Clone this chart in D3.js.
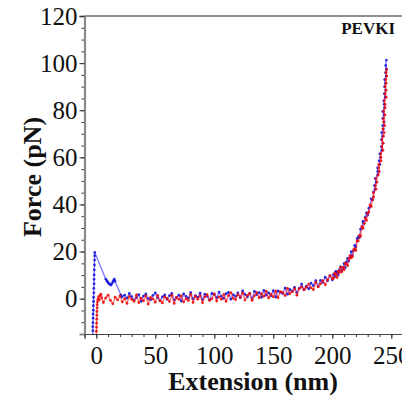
<!DOCTYPE html>
<html>
<head>
<meta charset="utf-8">
<script src="https://cdn.jsdelivr.net/npm/d3@7"></script>
<style>
  html, body { margin: 0; padding: 0; background: #fff; }
  svg { display: block; }
  text { font-family: "Liberation Serif", "Times New Roman", serif; fill: #111; }
</style>
</head>
<body>
<svg id="chart" width="402" height="400"></svg>
<script>
// Force–extension traces, [extension (nm), force (pN)]
const blueTrace = [
  // approach contact and adhesion peak
  [-3.0,-15.4],[-2.9,-13.6],[-3.0,-11.9],[-2.8,-10.2],[-2.7,-8.3],[-2.7,-6.5],[-2.5,-4.9],[-2.5,-3.0],
  [-2.3,-1.2],[-2.3,0.6],[-2.1,2.5],[-2.1,4.4],[-1.9,6.3],[-1.9,8.2],[-1.8,10.1],[-1.7,12.2],
  [-1.6,14.3],[-1.5,16.4],[-1.4,18.2],[-1.3,19.6],
  // detachment events
  [8.0,8.3],[8.9,7.6],[9.8,7.0],[10.7,6.4],[11.6,6.0],[12.5,5.8],[13.3,6.4],[14.1,7.2],[14.8,7.9],
  [15.3,8.3],[15.8,7.4],[20.9,1.5],[21.7,0.7],
  // unloaded baseline
  [24,1.5],[26,0.2],[28,2.2],[30,0.9],[32,-0.6],[34,0.5],[36,1.7],[38,-1.1],[40,1.1],[42,2.0],
  [44,0.0],[46,-0.5],[48,1.4],[50,2.4],[52,0.4],[54,-0.9],[56,0.8],[58,1.6],[60,-0.3],[62,1.3],
  [64,2.2],[66,-0.6],[68,0.5],[70,1.5],[72,-1.0],[74,2.0],[76,1.0],[78,0.2],[80,2.6],[82,-0.1],
  [84,1.3],[86,0.5],[88,2.3],[90,-0.4],[92,1.9],[94,1.0],[96,-0.6],[98,2.2],[100,1.7],[102,0.4],
  [104,2.8],[106,1.0],[108,0.1],[110,2.1],[112,2.7],[114,-0.2],[116,1.7],[118,1.0],[120,2.5],[122,0.4],
  [124,3.3],[126,1.8],[128,0.7],[130,2.2],[132,0.0],[134,3.1],[136,1.7],[138,2.6],[140,0.6],[142,3.5],
  [144,1.5],[146,2.5],[148,1.2],[150,3.4],[152,0.7],[154,3.3],[156,2.7],[158,2.2],[160,4.5],[162,1.9],
  [164,3.9],[166,3.2],[168,4.8],[170,2.6],[172,4.4],[174,6.2],[176,3.9],[178,5.3],[180,4.2],[182,6.6],
  [184,5.5],[186,7.7],[188,5.1],[190,7.8],[192,6.9],[194,9.1],[196,7.6],[198,9.7],[200,8.0],
  // entropic stretching
  [201,10.3],[202,9.4],[203,11.6],[204,10.9],[205,10.1],[206,12.2],[207,13.5],[208,11.8],[209,13.0],
  [210,14.9],[211,13.1],[212,15.6],[213,17.1],[214,16.0],[215,17.6],[216,20.0],[217,18.3],[218,20.3],
  [219,22.6],[220,22.0],[221,25.5],[222,26.2],[223,25.9],[224,29.5],[225,29.8],[226,32.8],[227,32.0],
  [228,34.6],[229,36.4],[230,35.5],[231,38.4],[232,39.0],[233,42.4],[234,41.9],[235,45.3],
  [236.3,46.5],[235.7,48.0],[237.1,49.5],[236.4,51.0],[238.4,52.5],[238.5,54.0],[238.4,55.5],[240.3,57.0],
  [239.7,58.5],[240.9,60.0],[240.2,61.5],[242.0,63.0],[241.6,64.5],[242.9,66.0],[241.7,67.5],[242.6,69.0],
  [241.9,70.5],[243.3,72.0],[242.8,73.5],[243.9,75.0],[242.8,76.5],[243.8,78.0],[242.8,79.5],[244.2,81.0],
  [244.0,82.5],[243.6,84.0],[244.9,85.5],[244.1,87.0],[245.3,88.5],[244.3,90.0],[245.0,91.5],[244.4,93.0],
  [245.6,94.5],[245.1,96.0],[245.8,97.5],[245.3,99.0],[245.8,101.3]
];

const redTrace = [
  // contact
  [0.0,-15.6],[0.1,-13.8],[0.2,-12.1],[0.3,-10.4],[0.4,-8.7],[0.5,-7.0],[0.6,-5.4],[0.7,-3.9],
  [0.8,-2.5],[1.0,-1.3],[1.4,-0.2],[1.9,0.9],[2.6,-0.6],[3.2,1.4],[3.9,1.9],[4.6,0.3],
  // unloaded baseline
  [6,-1.6],[8,0.3],[10,1.5],[12,-0.7],[14,-2.2],[16,0.6],[18,-0.5],[20,1.1],[22,-1.4],[24,0.0],
  [26,-2.0],[28,0.9],[30,-0.3],[32,-1.1],[34,1.6],[36,-1.7],[38,0.2],[40,-0.9],[42,1.2],[44,-2.3],
  [46,0.5],[48,-0.1],[50,-1.5],[52,1.4],[54,-0.8],[56,-1.8],[58,0.8],[60,0.1],[62,-1.2],[64,1.4],
  [66,-2.0],[68,0.5],[70,-0.3],[72,1.2],[74,-1.4],[76,0.0],[78,-0.8],[80,1.8],[82,-1.6],[84,1.0],
  [86,-0.2],[88,1.2],[90,-1.7],[92,0.8],[94,1.7],[96,-0.7],[98,0.0],[100,2.0],[102,-1.0],[104,0.8],
  [106,-0.3],[108,1.8],[110,-1.1],[112,1.3],[114,2.6],[116,0.2],[118,-0.4],[120,1.7],[122,0.7],[124,2.4],
  [126,-0.6],[128,1.4],[130,2.2],[132,-0.7],[134,1.2],[136,2.6],[138,0.4],[140,2.1],[142,1.0],[144,3.2],
  [146,0.3],[148,1.9],[150,0.8],[152,3.2],[154,0.4],[156,3.0],[158,2.6],[160,1.3],[162,4.4],[164,2.1],
  [166,2.9],[168,4.2],[170,1.5],[172,4.2],[174,5.0],[176,3.7],[178,4.8],[180,6.2],[182,4.6],[184,3.8],
  [186,7.0],[188,5.1],[190,6.3],[192,7.7],[194,5.9],[196,8.1],[198,9.8],[200,8.5],
  // entropic stretching
  [201,8.6],[202,10.8],[203,10.3],[204,9.1],[205,11.7],[206,11.1],[207,13.3],[208,11.4],[209,13.3],
  [210,12.3],[211,15.1],[212,14.7],[213,14.0],[214,16.8],[215,18.3],[216,17.3],[217,17.8],[218,20.7],
  [219,21.1],[220,20.5],[221,24.5],[222,24.5],[223,26.9],[224,26.6],[225,30.6],[226,29.9],[227,32.0],
  [228,34.2],[229,33.2],[230,36.3],[231,36.8],[232,39.8],[233,39.2],[234,41.9],[235,43.2],
  [234.9,45.0],[237.0,46.5],[236.6,48.0],[237.9,49.5],[237.1,51.0],[238.9,52.5],[239.8,54.0],[239.3,55.5],
  [239.4,57.0],[241.3,58.5],[241.1,60.0],[241.1,61.5],[242.9,63.0],[242.0,64.5],[243.0,66.0],[242.1,67.5],
  [243.3,69.0],[243.9,70.5],[242.8,72.0],[244.4,73.5],[243.6,75.0],[243.5,76.5],[244.6,78.0],[243.5,79.5],
  [244.7,81.0],[244.7,82.5],[244.1,84.0],[245.6,85.5],[244.7,87.0],[245.5,88.5],[244.8,90.0],[245.6,91.5],
  [245.4,93.0],[246.2,94.5],[245.6,96.0],[246.1,97.2]
];

const forceTicks = [0, 20, 40, 60, 80, 100, 120];
const extTicks = [0, 50, 100, 150, 200, 250];
const sampleName = "PEVKI";

const svg = d3.select("#chart");
const plotLeft = 84.5, plotTop = 16, plotBottom = 334;

const x = d3.scaleLinear().domain([-10, 270]).range([plotLeft, plotLeft + 280 * 1.18]);
const y = d3.scaleLinear().domain([-15, 120]).range([plotBottom, plotTop]);

svg.append("defs").append("clipPath").attr("id", "plotClip")
  .append("rect").attr("x", plotLeft).attr("y", plotTop)
  .attr("width", 402 - plotLeft).attr("height", plotBottom - plotTop);

// frame line along the top
svg.append("line").attr("x1", plotLeft).attr("x2", 402).attr("y1", plotTop).attr("y2", plotTop)
  .attr("stroke", "#222").attr("stroke-width", 1.2);

// minor ticks
svg.append("g").attr("transform", `translate(${plotLeft},0)`)
  .call(d3.axisLeft(y).tickValues(d3.range(-15, 121, 5)).tickSize(3).tickFormat(""))
  .call(g => g.select(".domain").remove())
  .call(g => g.selectAll("line").attr("stroke", "#333"));
svg.append("g").attr("transform", `translate(0,${plotBottom})`)
  .call(d3.axisBottom(x).tickValues(d3.range(-10, 271, 10)).tickSize(3).tickFormat(""))
  .call(g => g.select(".domain").remove())
  .call(g => g.selectAll("line").attr("stroke", "#333"));

// major ticks and labels
const yAxis = svg.append("g").attr("transform", `translate(${plotLeft},0)`)
  .call(d3.axisLeft(y).tickValues(forceTicks).tickSize(5).tickPadding(2).tickFormat(d3.format("d")));
yAxis.select(".domain").attr("stroke", "#8a8a8a").attr("stroke-width", 2.2);
yAxis.selectAll("line").attr("stroke", "#333");
yAxis.selectAll("text").attr("font-size", 25).attr("fill", "#111");

const xAxis = svg.append("g").attr("transform", `translate(0,${plotBottom})`)
  .call(d3.axisBottom(x).tickValues(extTicks).tickSize(5).tickPadding(7).tickFormat(d3.format("d")));
xAxis.select(".domain").attr("stroke", "#444").attr("stroke-width", 1.2);
xAxis.selectAll("line").attr("stroke", "#333");
xAxis.selectAll("text").attr("font-size", 25).attr("fill", "#111");

// axis titles
svg.append("text").attr("x", 253).attr("y", 390).attr("text-anchor", "middle")
  .attr("font-size", 26).attr("font-weight", "bold").text("Extension (nm)");
svg.append("text").attr("transform", "translate(41,177) rotate(-90)").attr("text-anchor", "middle")
  .attr("font-size", 26).attr("font-weight", "bold").text("Force (pN)");

svg.append("text").attr("x", 395).attr("y", 34).attr("text-anchor", "end")
  .attr("font-size", 17).attr("font-weight", "bold").text(sampleName);

// traces
const plot = svg.append("g").attr("clip-path", "url(#plotClip)");
const line = d3.line().x(d => x(d[0])).y(d => y(d[1]));

function drawTrace(data, lineColor, dotColor) {
  plot.append("path").datum(data).attr("d", line)
    .attr("fill", "none").attr("stroke", lineColor).attr("stroke-width", 1.3).attr("stroke-opacity", 0.65);
  plot.append("g").selectAll("circle").data(data).join("circle")
    .attr("cx", d => x(d[0])).attr("cy", d => y(d[1])).attr("r", 1.4)
    .attr("fill", dotColor).attr("fill-opacity", 0.85);
}

drawTrace(blueTrace, "#3030ff", "#1212d8");
drawTrace(redTrace, "#ff2020", "#ee0808");
</script>
</body>
</html>
